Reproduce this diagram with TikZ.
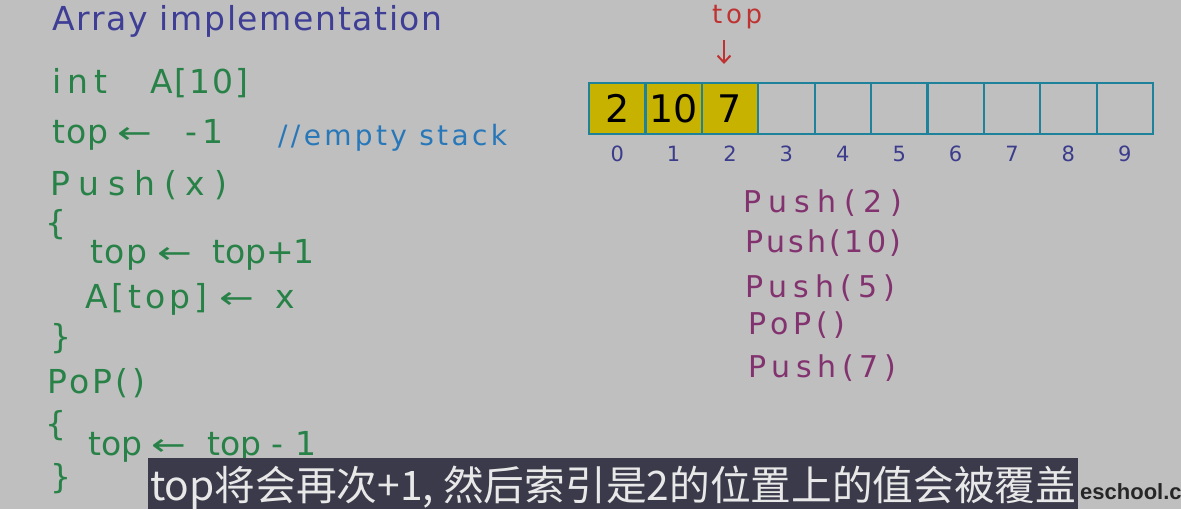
\documentclass[tikz,border=0pt]{standalone}
\usepackage{fontspec}
\setmainfont{DejaVu Sans}
\newfontfamily\cjk{Noto Sans CJK SC}
\newfontfamily\wmfont{Liberation Sans}
\usetikzlibrary{arrows.meta}
\definecolor{bgc}{RGB}{191,191,191}
\definecolor{titlec}{RGB}{62,62,150}
\definecolor{codec}{RGB}{40,130,72}
\definecolor{commc}{RGB}{40,120,185}
\definecolor{redc}{RGB}{190,50,50}
\definecolor{yelc}{RGB}{200,178,0}
\definecolor{cellc}{RGB}{30,130,155}
\definecolor{idxc}{RGB}{60,60,140}
\definecolor{purc}{RGB}{130,50,110}
\definecolor{subc}{RGB}{58,58,74}
\definecolor{subt}{RGB}{232,232,232}
\newcommand\hwls[1]{\addfontfeature{LetterSpace=#1}}
\newcommand\hwarrow{\scalebox{1.3}[0.95]{←}}
\begin{document}
\begin{tikzpicture}[x=1pt,y=-1pt,
  hw/.style={anchor=base west, inner sep=0pt, text=codec, font=\fontsize{33}{38}\selectfont},
  arr/.style={hw, font=\fontsize{32}{36}\selectfont},
  pu/.style={anchor=base west, inner sep=0pt, text=purc, font=\fontsize{30}{36}\selectfont},
  cell/.style={draw=cellc, line width=2.2pt, minimum width=56.4pt, minimum height=51pt, inner sep=0pt, font=\fontsize{38}{44}\selectfont},
  full/.style={cell, fill=yelc},
  idx/.style={text=idxc, inner sep=0pt, font=\fontsize{21}{25}\selectfont}]
\fill[bgc] (0,0) rectangle (1181,509);
\useasboundingbox (0,0) rectangle (1181,509);
% title
\node[hw, text=titlec] (title) at (52,30) {\hwls{5}Array implementation};
% code
\node[hw] (l1a) at (52,93) {\hwls{18}int};
\node[hw] (l1b) at (150,93) {\hwls{6}A[10]};
\node[hw] (l2a) at (52,143) {\hwls{3}top};
\node[arr] (l2b) at (117,143) {\hwarrow};
\node[hw] (l2c) at (185,143) {-\hspace{5pt}1};
\node[hw, text=commc, font=\fontsize{28}{32}\selectfont] (cm) at (278,145) {\hwls{12}//empty stack};
\node[hw] (l3) at (50,195) {\hwls{27}Push(x)};
\node[hw] (l4) at (45,234) {\{};
\node[hw] (l5a) at (90,263) {\hwls{5}top};
\node[arr] (l5b) at (157,263) {\hwarrow};
\node[hw] (l5c) at (212,263) {top+1};
\node[hw] (l6a) at (85,308) {\hwls{12}A[top]};
\node[arr] (l6b) at (219,308) {\hwarrow};
\node[hw] (l6c) at (275,308) {x};
\node[hw] (l7) at (50,348) {\}};
\node[hw] (l8) at (47,393) {\hwls{10}PoP()};
\node[hw] (l9) at (45,435) {\{};
\node[hw] (l10a) at (88,455) {top};
\node[arr] (l10b) at (151,455) {\hwarrow};
\node[hw] (l10c) at (207,455) {top};
\node[hw] (l10d) at (271,455) {-};
\node[hw] (l10e) at (295,455) {1};
\node[hw] (l11) at (50,488) {\}};
% array
\node[full] (c0) at (617.2,108.5) {2};
\node[full] (c1) at (673.6,108.5) {10};
\node[full] (c2) at (730.0,108.5) {7};
\node[cell] (c3) at (786.4,108.5) {};
\node[cell] (c4) at (842.8,108.5) {};
\node[cell] (c5) at (899.2,108.5) {};
\node[cell] (c6) at (955.6,108.5) {};
\node[cell] (c7) at (1012.0,108.5) {};
\node[cell] (c8) at (1068.4,108.5) {};
\node[cell] (c9) at (1124.8,108.5) {};
\foreach \i in {0,...,9} {
  \node[idx] (i\i) at (617.2+56.4*\i,154) {\i};
}
% top pointer
\node[anchor=base west, inner sep=0pt, text=redc, font=\fontsize{26}{30}\selectfont] (toplbl) at (712,23) {\hwls{14}top};
\coordinate (tipend) at (724,64);
\draw[redc, line width=2pt, -{Straight Barb[length=7pt,width=13pt]}] (724,40) -- (tipend);
% operations
\node[pu] (o1) at (743,212) {\hwls{25}Push(2)};
\node[pu] (o2) at (745,252) {\hwls{11}Push(10)};
\node[pu] (o3) at (745,297) {\hwls{20}Push(5)};
\node[pu] (o4) at (748,334) {\hwls{17}PoP()};
\node[pu] (o5) at (748,377) {\hwls{19}Push(7)};
% subtitle
\node[anchor=base west, inner sep=0pt, text=black!85, font=\wmfont\bfseries\fontsize{22}{26}\selectfont] (wm) at (1080,499) {eschool.c};
\fill[subc] (148,458) rectangle (1078,509);
\node[anchor=base west, inner sep=0pt, text=subt, font=\cjk\fontsize{40.7}{46}\selectfont] (sub) at (150,500) {top将会再次+1, 然后索引是2的位置上的值会被覆盖};
\end{tikzpicture}
\end{document}
